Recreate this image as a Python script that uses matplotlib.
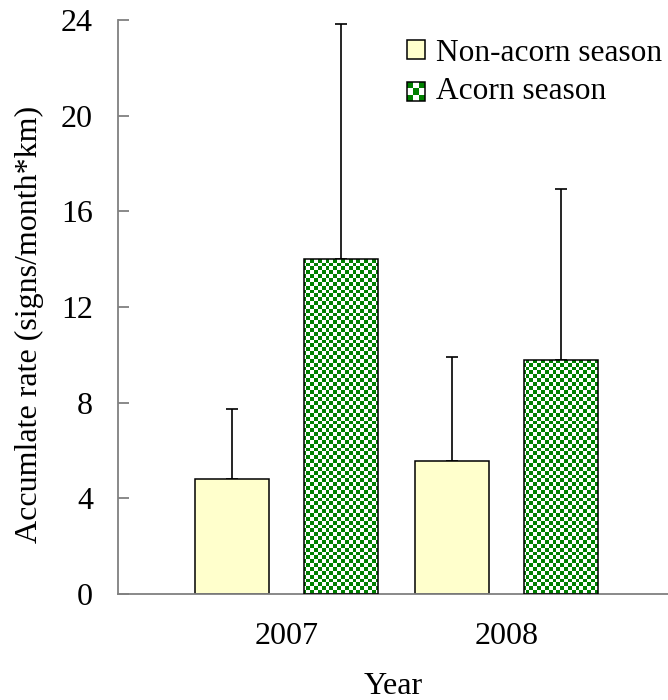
import numpy as np
import matplotlib
matplotlib.use("Agg")
import matplotlib.pyplot as plt
from matplotlib.patches import Rectangle

# values
years = ['2007', '2008']
non_acorn = [4.8, 5.55]
non_acorn_err = [2.93, 4.37]
acorn = [14.0, 9.78]
acorn_err = [9.85, 7.15]
y_ticks = [0, 4, 8, 12, 16, 20, 24]

yellow = '#ffffcc'
green = '#008000'

plt.rcParams['font.family'] = ['Liberation Serif', 'DejaVu Serif']
plt.rcParams['font.size'] = 23


def checker_image(nx, ny):
    # green/white checkerboard used as bar texture
    ii, jj = np.meshgrid(np.arange(nx), np.arange(ny))
    mask = (ii + jj) % 2 == 0
    img = np.ones((ny, nx, 3))
    img[mask] = matplotlib.colors.to_rgb(green)
    return img


class CheckerHandler:
    def legend_artist(self, legend, orig_handle, fontsize, handlebox):
        x0, y0 = handlebox.xdescent, handlebox.ydescent
        w, h = handlebox.width, handlebox.height
        n = 3
        for i in range(n):
            for j in range(n):
                if (i + j) % 2 == 0:
                    sq = Rectangle((x0 + i * w / n, y0 + j * h / n), w / n, h / n,
                                   facecolor=green, edgecolor='none',
                                   transform=handlebox.get_transform())
                    handlebox.add_artist(sq)
        border = Rectangle((x0, y0), w, h, facecolor='none', edgecolor='black',
                           lw=1.1, transform=handlebox.get_transform())
        handlebox.add_artist(border)
        return border


fig = plt.figure(figsize=(6.68, 7.0), dpi=100)
ax = fig.add_axes([118 / 668, 106 / 700, 550 / 668, 574 / 700])

x = np.arange(len(years))
width = 0.336
offset = 0.248

bars1 = ax.bar(x - offset, non_acorn, width, color=yellow, edgecolor='black',
               linewidth=1.1, zorder=2)
bars2 = ax.bar(x + offset, acorn, width, facecolor='none', edgecolor='black',
               linewidth=1.1, zorder=3)

# checkerboard fill clipped to each acorn bar
tex = checker_image(143, 149)
for b in bars2:
    im = ax.imshow(tex, extent=[0, 1, 0, 1], transform=ax.transAxes,
                   aspect='auto', interpolation='nearest', zorder=2.5)
    im.set_clip_path(b)

ax.errorbar(x - offset, non_acorn, yerr=[np.zeros(2), non_acorn_err], fmt='none',
            ecolor='black', elinewidth=1.2, capsize=4.6, capthick=1.2, zorder=1)
ax.errorbar(x + offset, acorn, yerr=[np.zeros(2), acorn_err], fmt='none',
            ecolor='black', elinewidth=1.2, capsize=4.6, capthick=1.2, zorder=1)

ax.set_xlim(-0.766, 1.734)
ax.set_ylim(0, 24)
ax.set_yticks(y_ticks)
ax.set_xticks(x)
ax.set_xticklabels(years)

for s in ['top', 'right']:
    ax.spines[s].set_visible(False)
for s in ['left', 'bottom']:
    ax.spines[s].set_color('#808080')
    ax.spines[s].set_linewidth(1.3)

ax.tick_params(axis='y', direction='in', length=8, width=1.3, color='#808080', pad=18)
ax.tick_params(axis='x', length=0, pad=20)

ax.set_ylabel('Accumlate rate (signs/month*km)')
ax.yaxis.set_label_coords(-0.135, 0.469)
ax.set_xlabel('Year', labelpad=15)

handles = [Rectangle((0, 0), 1, 1, facecolor=yellow, edgecolor='black', lw=1.1),
           Rectangle((0, 0), 1, 1)]
leg = ax.legend(handles, ['Non-acorn season', 'Acorn season'],
                handler_map={handles[1]: CheckerHandler()},
                loc='upper left', bbox_to_anchor=(407 / 668, 1 - 39 / 700),
                bbox_transform=fig.transFigure, frameon=False, borderpad=0,
                borderaxespad=0, handlelength=0.56, handleheight=0.56,
                handletextpad=0.37, labelspacing=0.3, fontsize=22.6)

fig.savefig('out.png', dpi=100)
